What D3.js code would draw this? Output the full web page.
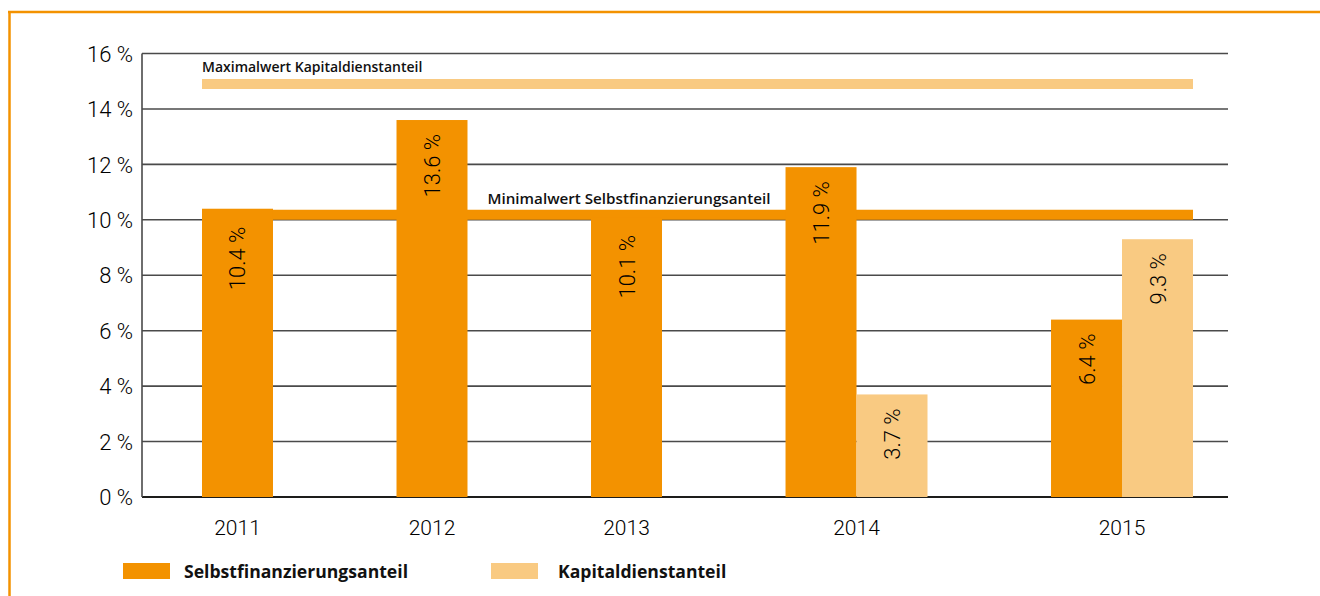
<html lang="de">
<head>
    <meta charset="UTF-8">
    <title>Selbstfinanzierungs- und Kapitaldienstanteil</title>
    <script src="https://d3js.org/d3.v7.min.js"></script>
    <style>
        body {
            margin: 0;
            background: #ffffff;
        }
        svg text {
            fill: #111111;
        }
        .num {
            font-family: Roboto, 'Open Sans', sans-serif;
            font-weight: 300;
            fill: #000000;
        }
        .bold {
            font-family: 'Open Sans', 'Noto Sans', sans-serif;
            font-weight: 700;
        }
        .note {
            font-family: 'Open Sans', 'Noto Sans', sans-serif;
            font-weight: 600;
        }
    </style>
</head>
<body>
    <svg id="chart" width="1320" height="596"></svg>
    <script>
        const years = ['2011', '2012', '2013', '2014', '2015'];
        const selbstfinanzierung = [10.4, 13.6, 10.1, 11.9, 6.4];
        const kapitaldienst = [null, null, null, 3.7, 9.3];
        const yTicks = [0, 2, 4, 6, 8, 10, 12, 14, 16];
        const minSelbst = 10.18;
        const maxKapital = 14.9;
        const seriesNames = ['Selbstfinanzierungsanteil', 'Kapitaldienstanteil'];

        const colors = { selbst: '#f39200', kapital: '#f9ca82', frame: '#f39200', grid: '#4a4a4a' };

        const svg = d3.select('#chart');

        // orange frame (top + left)
        svg.append('line').attr('x1', 8).attr('x2', 1320).attr('y1', 12).attr('y2', 12)
            .attr('stroke', colors.frame).attr('stroke-width', 2.5);
        svg.append('line').attr('x1', 9.5).attr('x2', 9.5).attr('y1', 12).attr('y2', 596)
            .attr('stroke', colors.frame).attr('stroke-width', 2.5);

        const plot = { left: 142, right: 1228, top: 53.5, bottom: 497 };

        const y = d3.scaleLinear().domain([0, 16]).range([plot.bottom, plot.top]);

        // groups: each existing bar is one unit wide, groups separated by a gap
        const gapUnits = 1.74;
        const groups = years.map((yr, i) => {
            const vals = [
                { key: 'selbst', v: selbstfinanzierung[i] },
                { key: 'kapital', v: kapitaldienst[i] }
            ].filter(d => d.v != null);
            return { year: yr, vals };
        });
        let cursor = 0;
        groups.forEach((g, i) => {
            g.start = cursor;
            cursor += g.vals.length;
            g.end = cursor;
            if (i < groups.length - 1) cursor += gapUnits;
        });
        const x = d3.scaleLinear().domain([0, cursor]).range([202, 1193]);

        // gridlines
        svg.append('g').selectAll('line').data(yTicks).join('line')
            .attr('x1', plot.left).attr('x2', plot.right)
            .attr('y1', d => y(d)).attr('y2', d => y(d))
            .attr('stroke', d => d === 0 ? '#1d1d1b' : colors.grid)
            .attr('stroke-width', d => d === 0 ? 2 : 1.6);
        svg.append('line').attr('x1', plot.left).attr('x2', plot.left)
            .attr('y1', plot.top).attr('y2', plot.bottom)
            .attr('stroke', colors.grid).attr('stroke-width', 1.6);

        // y axis labels
        const yAxis = d3.axisLeft(y).tickValues(yTicks).tickSize(0).tickPadding(9)
            .tickFormat(d => d + ' %');
        const ga = svg.append('g').attr('transform', `translate(${plot.left},0)`).call(yAxis);
        ga.select('.domain').remove();
        ga.selectAll('text').attr('class', 'num').attr('font-size', 22)
            .attr('fill', '#000').attr('dy', '0.35em');

        // reference lines
        svg.append('line').attr('x1', x(0)).attr('x2', x(cursor))
            .attr('y1', y(maxKapital)).attr('y2', y(maxKapital))
            .attr('stroke', colors.kapital).attr('stroke-width', 10);
        svg.append('line').attr('x1', x(0)).attr('x2', x(cursor))
            .attr('y1', y(minSelbst)).attr('y2', y(minSelbst))
            .attr('stroke', colors.selbst).attr('stroke-width', 10);

        svg.append('text').attr('class', 'note').attr('font-size', 14)
            .attr('x', x(0)).attr('y', 72)
            .text('Maximalwert Kapitaldienstanteil');
        svg.append('text').attr('class', 'note').attr('font-size', 15.2)
            .attr('x', x(groups[1].end) + 20).attr('y', 204)
            .text('Minimalwert Selbstfinanzierungsanteil');

        // bars
        const bars = groups.flatMap(g => g.vals.map((d, j) => ({
            year: g.year, key: d.key, v: d.v, x0: g.start + j
        })));

        svg.append('g').selectAll('rect').data(bars).join('rect')
            .attr('x', d => x(d.x0))
            .attr('width', d => x(d.x0 + 1) - x(d.x0))
            .attr('y', d => y(d.v))
            .attr('height', d => y(0) - y(d.v))
            .attr('fill', d => colors[d.key]);

        svg.append('g').selectAll('text').data(bars).join('text')
            .attr('class', 'num').attr('font-size', 22)
            .attr('text-anchor', 'end')
            .attr('transform', d => {
                const cx = (x(d.x0) + x(d.x0 + 1)) / 2;
                const top = y(d.v) + (d.v > 10 && d.v < 10.6 ? 18 : 14);
                return `translate(${cx + 8},${top}) rotate(-90)`;
            })
            .text(d => d3.format('.1f')(d.v) + ' %');

        // year labels
        svg.append('g').selectAll('text').data(groups).join('text')
            .attr('class', 'num').attr('font-size', 21)
            .attr('text-anchor', 'middle')
            .attr('x', g => (x(g.start) + x(g.end)) / 2)
            .attr('y', 535)
            .text(g => g.year);

        // legend
        const legend = [
            { name: seriesNames[0], color: colors.selbst, x: 123, tx: 61 },
            { name: seriesNames[1], color: colors.kapital, x: 491, tx: 67 }
        ];
        const lg = svg.append('g').selectAll('g').data(legend).join('g')
            .attr('transform', d => `translate(${d.x},563)`);
        lg.append('rect').attr('width', 47).attr('height', 16).attr('fill', d => d.color);
        lg.append('text').attr('class', 'bold').attr('font-size', 17.6)
            .attr('x', d => d.tx).attr('y', 14.5)
            .text(d => d.name);
    </script>
</body>
</html>
